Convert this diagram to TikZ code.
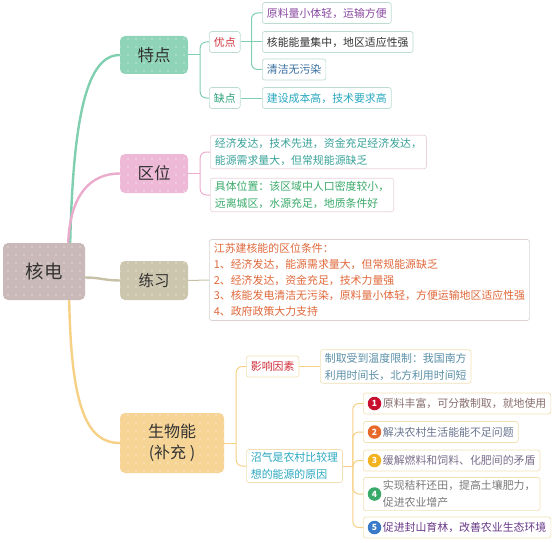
\documentclass[tikz,border=0pt]{standalone}
\usepackage{fontspec}
\setmainfont{Noto Sans CJK SC}
\usetikzlibrary{patterns.meta}
\definecolor{brg}{HTML}{7FCFB0}
\definecolor{brp}{HTML}{EAABCD}
\definecolor{brk}{HTML}{C7C1A8}
\definecolor{bry}{HTML}{F6D085}
\definecolor{rootfill}{HTML}{C9BAB9}
\definecolor{tdfill}{HTML}{8FD4B9}
\definecolor{qwfill}{HTML}{EDB9D7}
\definecolor{lxfill}{HTML}{CCC6AE}
\definecolor{swfill}{HTML}{F6D495}
\definecolor{gbord}{HTML}{BCDCD0}
\definecolor{pbord}{HTML}{EAD2DE}
\definecolor{kbord}{HTML}{DAD3D0}
\definecolor{ybord}{HTML}{F2E0B4}
\definecolor{tred}{HTML}{D0303C}
\definecolor{tgreen}{HTML}{2AA37A}
\definecolor{tpurple}{HTML}{8A4AA0}
\definecolor{tdark}{HTML}{333333}
\definecolor{tblue}{HTML}{3A6FA0}
\definecolor{tcyan}{HTML}{2AA8C0}
\definecolor{tteal}{HTML}{3AA39A}
\definecolor{tgreen2}{HTML}{3AAA6A}
\definecolor{torange}{HTML}{E0683A}
\definecolor{tgrayblue}{HTML}{5A8FA8}
\definecolor{ti1}{HTML}{8A6F6F}
\definecolor{ti2}{HTML}{6A7590}
\definecolor{ti3}{HTML}{7A6E8A}
\definecolor{ti4}{HTML}{7A7A7A}
\definecolor{ti5}{HTML}{6A3A8A}
\definecolor{c1}{HTML}{C8102E}
\definecolor{c2}{HTML}{E86A2A}
\definecolor{c3}{HTML}{F2B320}
\definecolor{c4}{HTML}{3AAA6A}
\definecolor{c5}{HTML}{3A7AC8}
\tikzdeclarepattern{
  name=sdots,
  type=uncolored,
  bounding box={(-4pt,-4pt) and (4pt,4pt)},
  tile size={(8pt,8pt)},
  code={\fill (0pt,0pt) circle (1.2pt);}
}
\begin{document}
\begin{tikzpicture}[x=1pt,y=-1pt,
  mainbox/.style={fill=#1, rounded corners=5pt, text=tdark,
    postaction={pattern=sdots, pattern color=#1!70!white}},
  leaf/.style={draw=#1, fill=white, rounded corners=2.5pt, line width=0.7pt,
    anchor=west, inner xsep=4.5pt, inner ysep=3pt, minimum height=21pt,
    align=left, font=\fontsize{10.9}{16}\selectfont},
  two/.style={font=\fontsize{10.9}{17}\selectfont},
  numc/.style={circle, fill=#1, text=white, inner sep=0pt, minimum size=13.5pt,
    font=\fontsize{8.5}{9}\selectfont\bfseries},
  rootbr/.style={line width=2.4pt},
  conn/.style={line width=1pt, rounded corners=6pt},
]
\useasboundingbox (0,0) rectangle (554,543);
% main nodes
\node[mainbox=rootfill, minimum width=82pt, minimum height=57pt, font=\fontsize{18.5}{20}\selectfont] (root) at (44,271.5) {核电};
\node[mainbox=tdfill, minimum width=68pt, minimum height=38pt, font=\fontsize{16.5}{20}\selectfont] (td) at (154,55) {特点};
\node[mainbox=qwfill, minimum width=68pt, minimum height=39pt, font=\fontsize{16.5}{20}\selectfont] (qw) at (154,173.5) {区位};
\node[mainbox=lxfill, minimum width=68pt, minimum height=39pt, font=\fontsize{15.5}{20}\selectfont] (lx) at (154,280.5) {练习};
\node[mainbox=swfill, minimum width=104pt, minimum height=60pt, align=center, font=\fontsize{16}{21}\selectfont] (sw) at (172,443) {生物能\\(补充 )};
% root branches
\draw[rootbr, brg] ([xshift=-15pt]root.north east) .. controls +(3,-130) and +(-32,0) .. (td.west);
\draw[rootbr, brp] ([xshift=-17pt]root.north east) .. controls +(2,-50) and +(-28,0) .. (qw.west);
\draw[rootbr, brk] ([yshift=-6pt]root.east) .. controls +(15,0) and +(-15,0) .. (lx.west);
\draw[rootbr, bry] ([xshift=-16pt]root.south east) .. controls +(2,110) and +(-32,0) .. (sw.west);
% 特点 subtree
\node[leaf=gbord, text=tred] (yd) at (209,42) {优点};
\node[leaf=gbord, text=tgreen] (qd) at (209,98) {缺点};
\node[leaf=gbord, text=tpurple] (a1) at (262,13) {原料量小体轻，运输方便};
\node[leaf=gbord, text=tdark] (a2) at (262,42) {核能能量集中，地区适应性强};
\node[leaf=gbord, text=tblue] (a3) at (262,69.5) {清洁无污染};
\node[leaf=gbord, text=tcyan] (b1) at (262,98) {建设成本高，技术要求高};
\draw[conn, brg] (td.east) -- ++(12,0) coordinate (tdj);
\draw[conn, brg] (tdj) |- (yd.west);
\draw[conn, brg] (tdj) |- (qd.west);
\draw[conn, brg] (yd.east) -- ++(11,0) coordinate (ydj);
\draw[conn, brg] (ydj) |- (a1.west);
\draw[conn, brg] (ydj) -- (a2.west);
\draw[conn, brg] (ydj) |- (a3.west);
\draw[conn, brg] (qd.east) -- (b1.west);
% 区位 subtree
\node[leaf=pbord, text=tteal, two] (q1) at (210,152) {经济发达，技术先进，资金充足经济发达，\\能源需求量大，但常规能源缺乏};
\node[leaf=pbord, text=tgreen2, two] (q2) at (210,195) {具体位置：该区域中人口密度较小，\\远离城区，水源充足，地质条件好};
\draw[conn, brp] (qw.east) -- ++(12,0) coordinate (qwj);
\draw[conn, brp] (qwj) |- (q1.west);
\draw[conn, brp] (qwj) |- (q2.west);
% 练习 subtree
\node[leaf=kbord, text=torange, inner ysep=4pt, font=\fontsize{10.9}{15.7}\selectfont] (pr) at (209,280) {江苏建核能的区位条件：\\1、经济发达，能源需求量大，但常规能源缺乏\\2、经济发达，资金充足，技术力量强\\3、核能发电清洁无污染，原料量小体轻，方便运输地区适应性强\\4、政府政策大力支持};
\draw[conn, brk] (lx.east) -- (pr.west);
% 生物能 subtree
\node[leaf=ybord, text=tred] (yx) at (246,366.5) {影响因素};
\node[leaf=ybord, text=tgrayblue, two] (zq) at (320,366.5) {制取受到温度限制：我国南方\\利用时间长，北方利用时间短};
\node[leaf=ybord, text=tcyan, two] (zy) at (246,466) {沼气是农村比较理\\想的能源的原因};
\draw[conn, bry] (sw.east) -- ++(12,0) coordinate (swj);
\draw[conn, bry] (swj) |- (yx.west);
\draw[conn, bry] (swj) |- (zy.west);
\draw[conn, bry] (yx.east) -- (zq.west);
\node[leaf=ybord, text=ti1] (i1) at (363,403.5) {\hspace*{15pt}原料丰富，可分散制取，就地使用};
\node[leaf=ybord, text=ti2] (i2) at (363,432) {\hspace*{15pt}解决农村生活能能不足问题};
\node[leaf=ybord, text=ti3] (i3) at (363,460.5) {\hspace*{15pt}缓解燃料和饲料、化肥间的矛盾};
\node[leaf=ybord, text=ti4, two] (i4) at (363,494) {\hspace*{15pt}实现秸秆还田，提高土壤肥力，\\\hspace*{15pt}促进农业增产};
\node[leaf=ybord, text=ti5] (i5) at (363,527.5) {\hspace*{15pt}促进封山育林，改善农业生态环境};
\node[numc=c1] (n1) at ([xshift=11.5pt]i1.west) {1};
\node[numc=c2] (n2) at ([xshift=11.5pt]i2.west) {2};
\node[numc=c3] (n3) at ([xshift=11.5pt]i3.west) {3};
\node[numc=c4] (n4) at ([xshift=11.5pt]i4.west) {4};
\node[numc=c5] (n5) at ([xshift=11.5pt]i5.west) {5};
\draw[conn, bry] (zy.east) -- ++(10,0) coordinate (zyj);
\draw[conn, bry] (zyj) |- (i1.west);
\draw[conn, bry] (zyj) |- (i2.west);
\draw[conn, bry] (zyj) |- (i3.west);
\draw[conn, bry] (zyj) |- (i4.west);
\draw[conn, bry] (zyj) |- (i5.west);
\end{tikzpicture}
\end{document}
